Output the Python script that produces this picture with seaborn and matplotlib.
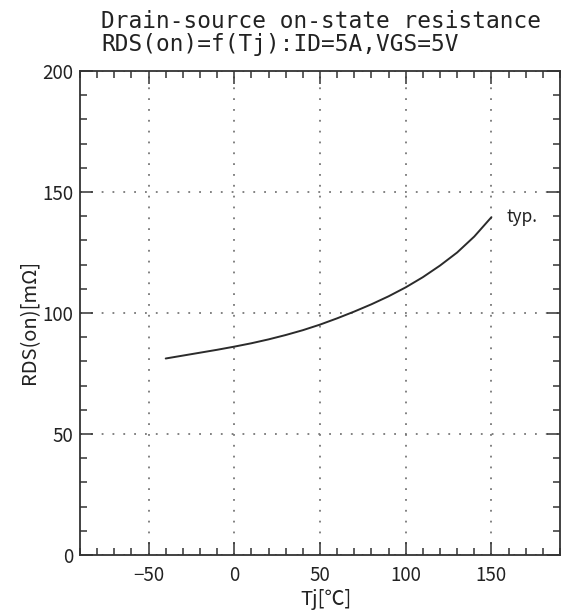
import matplotlib
matplotlib.use("Agg")
import matplotlib.pyplot as plt
import seaborn as sns
import pandas as pd
from matplotlib.ticker import MultipleLocator

# Data (every 10 degC)
tj = [-40, -30, -20, -10, 0, 10, 20, 30, 40, 50, 60, 70, 80, 90,
      100, 110, 120, 130, 140, 150]
rds = [81.2, 82.4, 83.6, 84.8, 86.1, 87.5, 89.1, 90.9, 92.9, 95.2,
       97.8, 100.6, 103.6, 106.9, 110.6, 114.8, 119.6, 125.0, 131.6, 139.6]

title_lines = ["Drain-source on-state resistance",
               "RDS(on)=f(Tj):ID=5A,VGS=5V"]
x_major = [-50, 0, 50, 100, 150]
y_major = [0, 50, 100, 150, 200]
x_label = "Tj[℃]"
y_label = "RDS(on)[mΩ]"
curve_label = "typ."

sns.set_theme(style="ticks")
plt.rcParams["font.family"] = ["Noto Sans CJK JP", "DejaVu Sans"]

df = pd.DataFrame({"Tj": tj, "RDS": rds})

fig = plt.figure(figsize=(5.61, 6.11), dpi=100)
ax = fig.add_axes([80 / 561, 56 / 611, 480 / 561, 484 / 611])

sns.lineplot(data=df, x="Tj", y="RDS", ax=ax, color="#2b2b2b", linewidth=1.4)

ax.set_xlim(-90, 190)
ax.set_ylim(0, 200)
ax.set_xticks(x_major)
ax.set_yticks(y_major)
ax.xaxis.set_minor_locator(MultipleLocator(10))
ax.yaxis.set_minor_locator(MultipleLocator(10))
ax.tick_params(which="both", direction="in", top=True, right=True,
               color="#333333", width=1.1, labelsize=13.5, labelcolor="#222222")
ax.tick_params(which="major", length=9.5)
ax.tick_params(which="minor", length=5)
ax.tick_params(axis="x", pad=7)
ax.tick_params(axis="y", pad=5)
ax.grid(which="major", color="#777777", linewidth=1.3, linestyle=(0, (1, 5)))
for s in ax.spines.values():
    s.set_color("#333333")
    s.set_linewidth(1.3)

ax.set_xlabel(x_label, fontsize=14.5, color="#222222", va="center")
ax.xaxis.set_label_coords((326 - 80) / 480, (555 - 599) / 484)
ax.set_ylabel(y_label, fontsize=14.5, color="#222222", va="center")
ax.yaxis.set_label_coords((29.5 - 80) / 480, (555 - 322) / 484)

ax.text(159, 139.6, curve_label, ha="left", va="center", fontsize=12.5, color="#222222")

fig.text(101 / 561, 1 - 28 / 611, title_lines[0], family="DejaVu Sans Mono",
         fontsize=16.4, va="baseline", ha="left", color="#222222")
fig.text(101 / 561, 1 - 51 / 611, title_lines[1], family="DejaVu Sans Mono",
         fontsize=16.4, va="baseline", ha="left", color="#222222")

fig.savefig("out.png", dpi=100)
